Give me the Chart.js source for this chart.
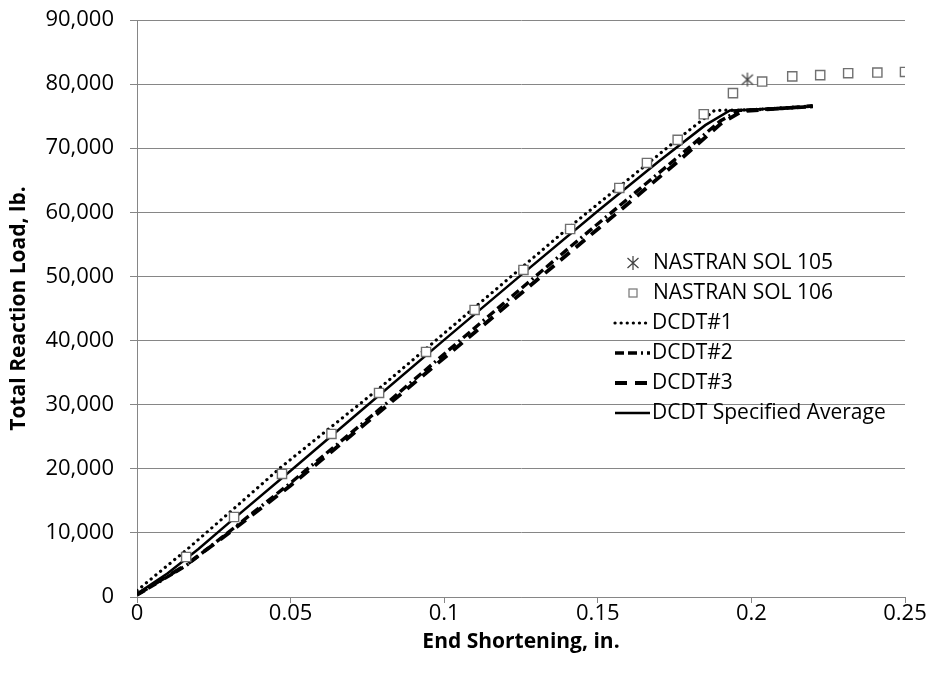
<!DOCTYPE html>
<html>
<head>
<meta charset="utf-8">
<script src="https://cdn.jsdelivr.net/npm/chart.js@4.4.1/dist/chart.umd.min.js"></script>
<style>
  html, body { margin: 0; padding: 0; background: #fff; }
  canvas { display: block; }
</style>
</head>
<body>
<canvas id="loadChart" width="927" height="677"></canvas>
<script>
// values
const sol105X = [0.1987];
const sol105Y = [80700];

const sol106X = [0.016, 0.0316, 0.0472, 0.0633, 0.0788, 0.0941, 0.1099, 0.1258, 0.141, 0.157,
                 0.166, 0.176, 0.1845, 0.194, 0.2035, 0.2133, 0.2224, 0.2315, 0.241, 0.25];
const sol106Y = [6240, 12480, 19190, 25430, 31830, 38220, 44770, 51010, 57400, 63800,
                 67700, 71300, 75300, 78600, 80400, 81200, 81400, 81700, 81800, 81900];

const dcdt1X = [0, 0.016, 0.0316, 0.047, 0.079, 0.11, 0.141, 0.157, 0.176, 0.188, 0.2, 0.21, 0.22];
const dcdt1Y = [1000, 7300, 13800, 20300, 32600, 45200, 57800, 64000, 71400, 75900, 76000, 76300, 76600];

const dcdt2X = [0, 0.016, 0.0316, 0.05, 0.079, 0.11, 0.141, 0.157, 0.176, 0.19, 0.196, 0.21, 0.22];
const dcdt2Y = [300, 4900, 10800, 17800, 29300, 42000, 54600, 61000, 68600, 74300, 75900, 76200, 76500];

const dcdt3X = [0, 0.016, 0.0316, 0.05, 0.079, 0.11, 0.141, 0.157, 0.176, 0.19, 0.197, 0.21, 0.22];
const dcdt3Y = [400, 5000, 10600, 17400, 28900, 41300, 53800, 60200, 67900, 73800, 75800, 76200, 76600];

const avgX = [0, 0.01, 0.02, 0.03, 0.05, 0.075, 0.1, 0.125, 0.15, 0.17, 0.185, 0.193, 0.2, 0.21, 0.22];
const avgY = [500, 3700, 7500, 11600, 19700, 29900, 40100, 50200, 60200, 68000, 73600, 75900, 76000, 76300, 76500];

const seriesNames = ["NASTRAN SOL 105", "NASTRAN SOL 106", "DCDT#1", "DCDT#2", "DCDT#3", "DCDT Specified Average"];
const xTicks = [0, 0.05, 0.1, 0.15, 0.2, 0.25];

const fontFamily = "'Open Sans', 'Noto Sans', sans-serif";

function pairs(xs, ys) {
    return xs.map((x, i) => ({ x: x, y: ys[i] }));
}

// six-armed asterisk marker like the Excel one
function makeAsterisk() {
    const c = document.createElement('canvas');
    c.width = 16; c.height = 16;
    const g = c.getContext('2d');
    g.strokeStyle = '#404040';
    g.lineWidth = 1.2;
    g.beginPath();
    g.moveTo(8, 1); g.lineTo(8, 15);
    g.moveTo(2.5, 3); g.lineTo(13.5, 13);
    g.moveTo(13.5, 3); g.lineTo(2.5, 13);
    g.stroke();
    return c;
}
const asterisk = makeAsterisk();

const lineStyles = {
    dcdt1: { dash: [0.1, 6], width: 3.2, cap: 'round' },
    dcdt2: { dash: [9, 4, 9, 4, 2, 4], width: 3.4, cap: 'butt' },
    dcdt3: { dash: [12, 8], width: 3.8, cap: 'butt' },
    avg: { dash: [], width: 2.5, cap: 'butt' }
};

function lineSet(label, xs, ys, st) {
    return {
        label: label,
        data: pairs(xs, ys),
        showLine: true,
        borderColor: '#000',
        backgroundColor: '#000',
        borderWidth: st.width,
        borderDash: st.dash,
        borderCapStyle: st.cap,
        pointRadius: 0,
        tension: 0
    };
}

// legend drawn inside the plot, as in the reference
const insideLegend = {
    id: 'insideLegend',
    afterDraw(chart) {
        const ctx = chart.ctx;
        const area = chart.chartArea;
        const x0 = area.left + 478;
        const textX = area.left + 516;
        const rowY = [263, 293, 323, 353, 383, 413];
        const styles = [null, null, lineStyles.dcdt1, lineStyles.dcdt2, lineStyles.dcdt3, lineStyles.avg];
        ctx.save();
        ctx.font = "21px " + fontFamily;
        ctx.textBaseline = 'middle';
        ctx.fillStyle = '#000';
        seriesNames.forEach((name, i) => {
            const y = rowY[i];
            if (i === 0) {
                ctx.drawImage(asterisk, x0 + 10, y - 8);
                ctx.fillText(name, textX, y);
            } else if (i === 1) {
                ctx.fillStyle = '#fff';
                ctx.strokeStyle = '#7f7f7f';
                ctx.lineWidth = 1.3;
                ctx.fillRect(x0 + 14, y - 4, 8, 8);
                ctx.strokeRect(x0 + 14, y - 4, 8, 8);
                ctx.fillStyle = '#000';
                ctx.fillText(name, textX, y);
            } else {
                const st = styles[i];
                ctx.strokeStyle = '#000';
                ctx.lineWidth = st.width;
                ctx.lineCap = st.cap;
                ctx.setLineDash(st.dash);
                ctx.beginPath();
                ctx.moveTo(x0, y);
                ctx.lineTo(x0 + 35, y);
                ctx.stroke();
                ctx.setLineDash([]);
                ctx.fillText(name, x0 + 37, y);
            }
        });
        ctx.restore();
    }
};

const ctx = document.getElementById('loadChart').getContext('2d');
new Chart(ctx, {
    type: 'scatter',
    data: {
        datasets: [
            {
                label: seriesNames[0],
                data: pairs(sol105X, sol105Y),
                pointStyle: asterisk,
                pointRadius: 8,
                showLine: false
            },
            {
                label: seriesNames[1],
                data: pairs(sol106X, sol106Y),
                pointStyle: 'rect',
                pointRadius: 6.5,
                pointBackgroundColor: '#fff',
                pointBorderColor: '#707070',
                pointBorderWidth: 1.4,
                showLine: false
            },
            lineSet(seriesNames[2], dcdt1X, dcdt1Y, lineStyles.dcdt1),
            lineSet(seriesNames[3], dcdt2X, dcdt2Y, lineStyles.dcdt2),
            lineSet(seriesNames[4], dcdt3X, dcdt3Y, lineStyles.dcdt3),
            lineSet(seriesNames[5], avgX, avgY, lineStyles.avg)
        ]
    },
    options: {
        responsive: false,
        animation: false,
        devicePixelRatio: 1,
        layout: { padding: { top: 20, right: 22, left: 6, bottom: 22 } },
        plugins: {
            legend: { display: false },
            tooltip: { enabled: false }
        },
        scales: {
            x: {
                type: 'linear',
                min: 0,
                max: 0.25,
                afterBuildTicks: (scale) => { scale.ticks = xTicks.map(v => ({ value: v })); },
                afterFit: (scale) => { scale.height = 58; },
                grid: { drawOnChartArea: false, drawTicks: true, tickLength: 6, color: '#868686' },
                border: { color: '#868686', width: 1 },
                ticks: {
                    color: '#000',
                    padding: -2,
                    font: { family: fontFamily, size: 22 },
                    callback: (v) => String(v)
                },
                title: {
                    display: true,
                    text: 'End Shortening, in.',
                    color: '#000',
                    padding: { top: 0, bottom: 0 },
                    font: { family: fontFamily, size: 21, weight: 'bold' }
                }
            },
            y: {
                min: 0,
                max: 90000,
                afterFit: (scale) => {
                    scale.width = 131;
                    // keep the tick padding from pushing the plot top down
                    scale.paddingTop = 6;
                    scale.paddingBottom = 6;
                },
                ticks: {
                    stepSize: 10000,
                    color: '#000',
                    padding: 16,
                    font: { family: fontFamily, size: 22 },
                    callback: (v) => v.toLocaleString('en-US')
                },
                grid: { color: '#868686', tickLength: 7, lineWidth: 1 },
                border: { color: '#868686', width: 1 },
                title: {
                    display: true,
                    text: 'Total Reaction Load, lb.',
                    color: '#000',
                    padding: { top: 0, bottom: 4 },
                    font: { family: fontFamily, size: 21, weight: 'bold' }
                }
            }
        }
    },
    plugins: [insideLegend]
});
</script>
</body>
</html>
